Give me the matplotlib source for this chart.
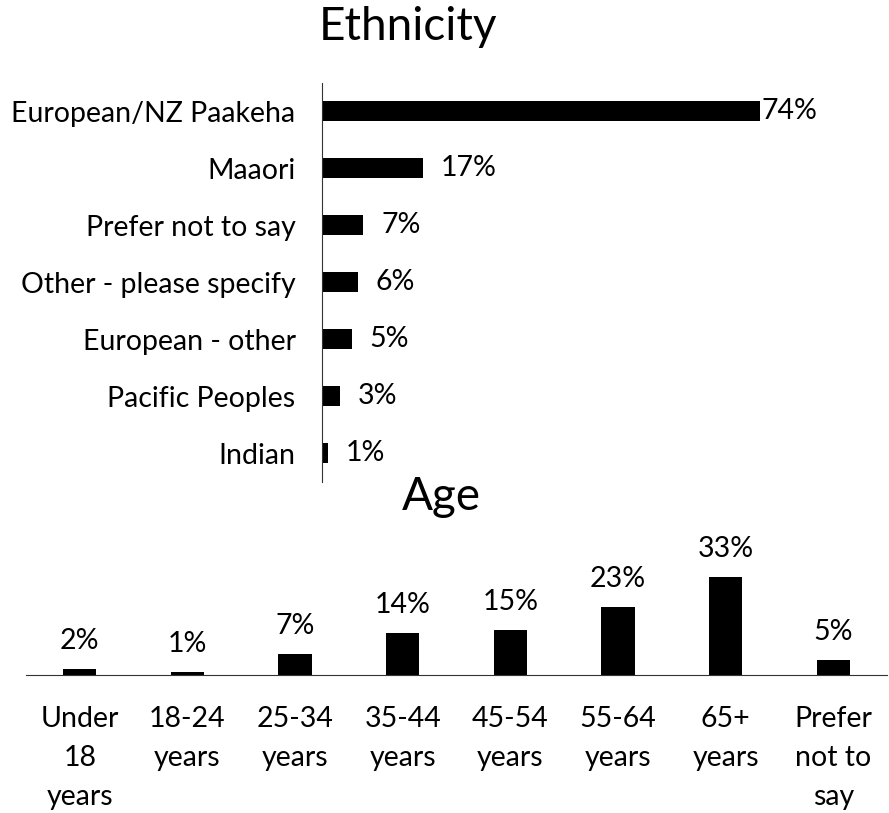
import matplotlib.pyplot as plt

plt.rcParams['font.family'] = ['Lato', 'DejaVu Sans']

# ethnicity data (top chart, listed top to bottom)
eth_labels = ["European/NZ Paakeha", "Maaori", "Prefer not to say",
              "Other - please specify", "European - other", "Pacific Peoples", "Indian"]
eth_values = [0.74, 0.17, 0.07, 0.06, 0.05, 0.03, 0.01]

# age data (bottom chart)
age_labels = ["Under\n18\nyears", "18-24\nyears", "25-34\nyears", "35-44\nyears",
              "45-54\nyears", "55-64\nyears", "65+\nyears", "Prefer\nnot to\nsay"]
age_values = [0.02, 0.01, 0.07, 0.14, 0.15, 0.23, 0.33, 0.05]

W, H = 889, 813
fig = plt.figure(figsize=(W / 100, H / 100), dpi=100)
FS = 20.5


def box(x0, y0, x1, y1):
    # pixel box -> figure fraction
    return [x0 / W, 1 - y1 / H, (x1 - x0) / W, (y1 - y0) / H]


# --- Ethnicity ---
ax1 = fig.add_axes(box(322, 82.5, 795.6, 481.5))
ypos = list(range(len(eth_labels)))
ax1.barh(ypos, eth_values, height=0.35, color='black')
ax1.set_ylim(len(eth_labels) - 0.5, -0.5)
ax1.set_xlim(0, 0.8)
ax1.set_yticks(ypos)
ax1.set_yticklabels(eth_labels, fontsize=FS)
ax1.tick_params(axis='y', length=0, pad=19)
ax1.set_xticks([])
for s in ['top', 'right', 'bottom']:
    ax1.spines[s].set_visible(False)
ax1.spines['left'].set_color('#333333')
for y, v in zip(ypos, eth_values):
    off = 0.003 if v > 0.7 else 0.03
    ax1.text(v + off, y, f"{round(v * 100)}%", va='center', ha='left', fontsize=FS)
fig.text(408 / W, 1 - 27 / H, "Ethnicity", ha='center', va='center', fontsize=33)

# --- Age ---
ax2 = fig.add_axes(box(26, 556, 887, 675))
xpos = list(range(len(age_labels)))
ax2.bar(xpos, age_values, width=0.31, color='black')
ax2.set_xlim(-0.5, len(age_labels) - 0.5)
ax2.set_ylim(0, 0.4)
ax2.set_xticks(xpos)
ax2.set_xticklabels(age_labels, fontsize=FS, linespacing=1.62, va='top')
ax2.tick_params(axis='x', length=0, pad=22)
ax2.set_yticks([])
for s in ['top', 'right', 'left']:
    ax2.spines[s].set_visible(False)
ax2.spines['bottom'].set_color('#333333')
for x, v in zip(xpos, age_values):
    ax2.text(x, v + 0.05, f"{round(v * 100)}%", ha='center', va='bottom', fontsize=FS)
fig.text(441 / W, 1 - 497 / H, "Age", ha='center', va='center', fontsize=33)

fig.savefig("out.png", dpi=100)
